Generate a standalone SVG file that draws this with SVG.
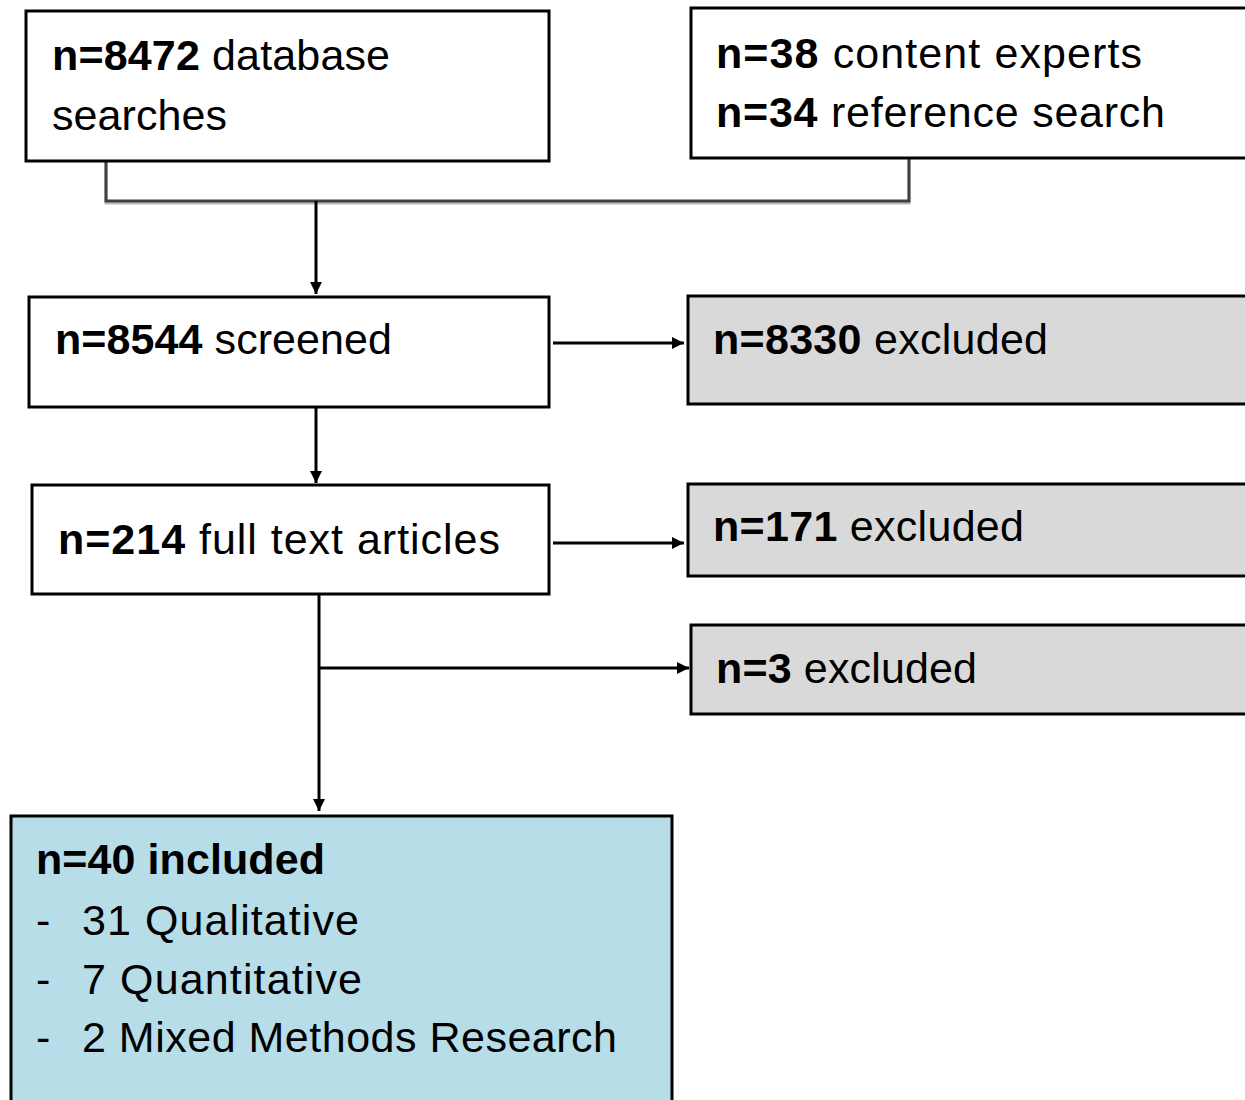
<svg xmlns="http://www.w3.org/2000/svg" width="1245" height="1100" viewBox="0 0 1245 1100">
<defs>
<style>
.box{fill:#fff;stroke:#000;stroke-width:3}
.grey{fill:#d9d9d9;stroke:#000;stroke-width:3}
.blue{fill:#b7dde8;stroke:#000;stroke-width:3}
text{font-family:"Liberation Sans",Arial,sans-serif;font-size:43px;fill:#000}
.b{font-weight:bold}
.ln{fill:none;stroke:#000;stroke-width:3}
</style>
<marker id="ah" markerUnits="userSpaceOnUse" markerWidth="14" markerHeight="14" refX="12" refY="6" orient="auto">
<path d="M0,0 L12,6 L0,12 Z" fill="#000"/>
</marker>
</defs>
<rect width="1245" height="1100" fill="#fff"/>
<g id="connectors">
<polyline points="106,161 106,201 909,201 909,158" fill="none" stroke="#bbb" stroke-width="3" transform="translate(0,2)"/>
<polyline points="106,161 106,201 909,201 909,158" fill="none" stroke="#404040" stroke-width="3"/>
<line class="ln" x1="316" y1="201" x2="316" y2="294" marker-end="url(#ah)"/>
<line class="ln" x1="553" y1="343" x2="684" y2="343" marker-end="url(#ah)"/>
<line class="ln" x1="316" y1="407" x2="316" y2="483" marker-end="url(#ah)"/>
<line class="ln" x1="553" y1="543" x2="684" y2="543" marker-end="url(#ah)"/>
<line class="ln" x1="319" y1="594" x2="319" y2="811" marker-end="url(#ah)"/>
<line class="ln" x1="319" y1="668" x2="689" y2="668" marker-end="url(#ah)"/>
</g>
<g id="db">
<rect class="box" x="26" y="11" width="523" height="150"/>
<text x="52" y="70" textLength="338" lengthAdjust="spacing"><tspan class="b">n=8472</tspan> database</text>
<text x="52" y="130" textLength="175" lengthAdjust="spacing">searches</text>
</g>
<g id="other">
<rect class="box" x="691" y="8" width="560" height="150"/>
<text x="716" y="68" textLength="426" lengthAdjust="spacing"><tspan class="b">n=38</tspan> content experts</text>
<text x="716" y="127" textLength="449" lengthAdjust="spacing"><tspan class="b">n=34</tspan> reference search</text>
</g>
<g id="screened">
<rect class="box" x="29" y="297" width="520" height="110"/>
<text x="55" y="354" textLength="337" lengthAdjust="spacing"><tspan class="b">n=8544</tspan> screened</text>
</g>
<g id="excl1">
<rect class="grey" x="688" y="296" width="563" height="108"/>
<text x="713" y="354" textLength="335" lengthAdjust="spacing"><tspan class="b">n=8330</tspan> excluded</text>
</g>
<g id="fulltext">
<rect class="box" x="32" y="485" width="517" height="109"/>
<text x="58" y="554" textLength="442" lengthAdjust="spacing"><tspan class="b">n=214</tspan> full text articles</text>
</g>
<g id="excl2">
<rect class="grey" x="688" y="484" width="563" height="92"/>
<text x="713" y="541" textLength="311" lengthAdjust="spacing"><tspan class="b">n=171</tspan> excluded</text>
</g>
<g id="excl3">
<rect class="grey" x="691" y="625" width="560" height="89"/>
<text x="716" y="683" textLength="261" lengthAdjust="spacing"><tspan class="b">n=3</tspan> excluded</text>
</g>
<g id="included">
<rect class="blue" x="11" y="816" width="661" height="300"/>
<text x="36" y="874" class="b" textLength="289" lengthAdjust="spacing">n=40 included</text>
<text x="36" y="935">-</text><text x="82" y="935" textLength="277" lengthAdjust="spacing">31 Qualitative</text>
<text x="36" y="994">-</text><text x="82" y="994" textLength="280" lengthAdjust="spacing">7 Quantitative</text>
<text x="36" y="1052">-</text><text x="82" y="1052" textLength="535" lengthAdjust="spacing">2 Mixed Methods Research</text>
</g>
</svg>
